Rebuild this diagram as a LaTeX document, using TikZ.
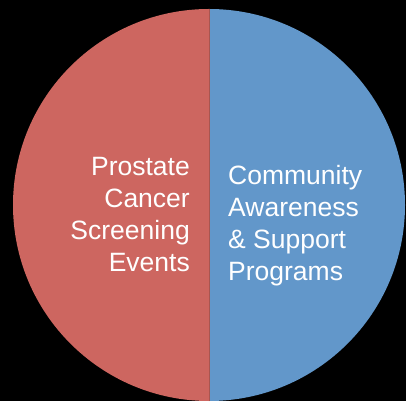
\documentclass[tikz,border=0pt]{standalone}
\usepackage{fontspec}
\setmainfont{Liberation Sans}
\definecolor{pred}{HTML}{CD6660}
\definecolor{pblue}{HTML}{6297CA}
\definecolor{pline}{HTML}{A85550}
\tikzset{
  lbl/.style={text=white, font=\fontsize{26.5}{31.8}\selectfont, inner sep=0pt}
}
\begin{document}
\begin{tikzpicture}[x=1pt,y=1pt]
\fill[black] (0,0) rectangle (406,401);
\useasboundingbox (0,0) rectangle (406,401);
\coordinate (c) at (209,196);
\fill[pred] (c) -- ++(0,196) arc[start angle=90,end angle=270,radius=196] -- cycle;
\fill[pblue] (c) -- ++(0,196) arc[start angle=90,end angle=-90,radius=196] -- cycle;
\coordinate (top) at (209,392);
\coordinate (bot) at (209,0);
\draw[pline, line width=1pt] (top) -- (bot);
\node[lbl, align=right, anchor=east] (left) at (190,186.5) {Prostate\\Cancer\\Screening\\Events};
\node[lbl, align=left, anchor=west] (right) at (228,175.5) {Community\\Awareness\\\& Support\\Programs};
\end{tikzpicture}
\end{document}
